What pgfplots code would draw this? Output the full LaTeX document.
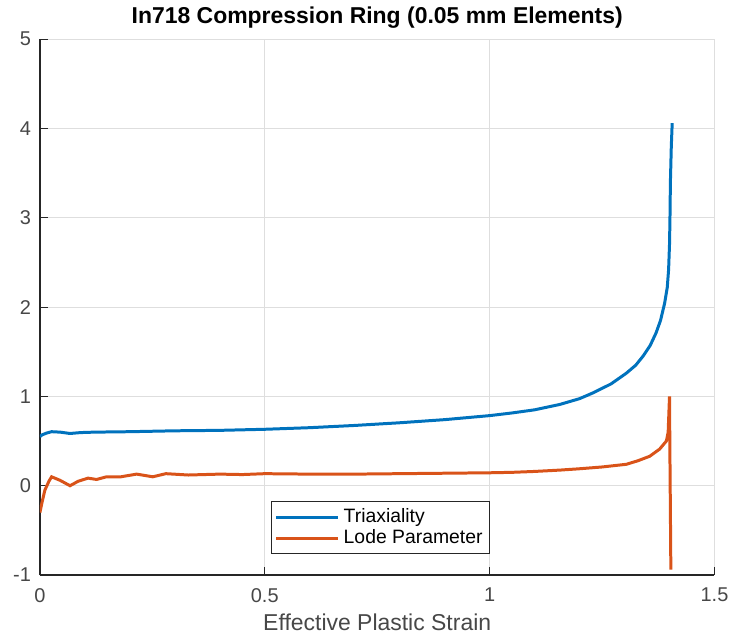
\documentclass[border=0pt]{standalone}
\usepackage{fontspec}
\setmainfont{Liberation Sans}
\usepackage{pgfplots}
\pgfplotsset{compat=1.18}
\definecolor{mblue}{rgb}{0,0.447,0.741}
\definecolor{morange}{rgb}{0.85,0.325,0.098}
\definecolor{axgray}{rgb}{0.15,0.15,0.15}
\definecolor{gridgray}{rgb}{0.87,0.87,0.87}
\begin{document}
\begin{tikzpicture}
\begin{axis}[
  scale only axis,
  width=338pt, height=268.5pt,
  xmin=0, xmax=1.5, ymin=-1, ymax=5,
  xtick={0,0.5,1,1.5}, ytick={-1,0,1,2,3,4,5},
  xticklabels={0,0.5,1,1.5},
  axis x line*=bottom, axis y line*=left,
  axis line style={axgray, line width=0.6pt},
  tick align=inside,
  major tick length=4pt,
  tick style={axgray, line width=0.6pt},
  grid=major,
  major grid style={gridgray, line width=0.5pt},
  ticklabel style={font=\fontsize{10}{12}\selectfont, text=axgray!85},
  xticklabel style={yshift=-3pt},
  yticklabel style={xshift=-1pt},
  /pgf/number format/assume math mode=true,
  xlabel={Effective Plastic Strain},
  xlabel style={font=\fontsize{11.5}{13}\selectfont, text=axgray!85, yshift=1pt},
  title={\textbf{In718 Compression Ring (0.05 mm Elements)}},
  title style={font=\fontsize{11.5}{13}\selectfont, yshift=-4pt},
  legend style={at={(0.343,0.039)}, anchor=south west, draw=axgray, line width=0.6pt,
    font=\fontsize{9.7}{11}\selectfont, row sep=-2pt, inner sep=1.5pt},
  legend cell align=left,
  legend image post style={line width=1.5pt},
  legend image code/.code={\draw[#1] (0pt,0pt) -- (31pt,0pt);},
]
\addplot[mblue, line width=1.5pt] coordinates {
(0,0.55) (0.005,0.57) (0.015,0.59) (0.026,0.605) (0.045,0.60) (0.067,0.585)
(0.09,0.595) (0.12,0.60) (0.2,0.605) (0.3,0.615) (0.4,0.62) (0.5,0.632)
(0.6,0.65) (0.7,0.675) (0.8,0.705) (0.9,0.74) (1.0,0.785) (1.05,0.815)
(1.1,0.85) (1.156,0.91) (1.2,0.975) (1.23,1.04) (1.27,1.14) (1.304,1.26)
(1.325,1.35) (1.341,1.45) (1.357,1.57) (1.37,1.71) (1.38,1.85) (1.389,2.04)
(1.395,2.22) (1.398,2.42) (1.400,2.7) (1.401,2.98) (1.402,3.4) (1.404,3.8) (1.406,4.06)
};
\addlegendentry{Triaxiality}
\addplot[morange, line width=1.5pt] coordinates {
(0,-0.30) (0.005,-0.18) (0.011,-0.05) (0.02,0.05) (0.026,0.10) (0.045,0.06)
(0.067,0.0) (0.085,0.05) (0.107,0.085) (0.126,0.07) (0.148,0.10) (0.18,0.10)
(0.215,0.13) (0.251,0.10) (0.28,0.135) (0.33,0.12) (0.4,0.13) (0.45,0.125)
(0.5,0.135) (0.6,0.13) (0.7,0.13) (0.8,0.135) (0.9,0.14) (1.0,0.145)
(1.05,0.15) (1.1,0.16) (1.156,0.175) (1.2,0.19) (1.25,0.21) (1.304,0.24)
(1.33,0.28) (1.356,0.33) (1.378,0.41) (1.393,0.50) (1.397,0.6) (1.400,1.0)
(1.401,0.3) (1.402,-0.3) (1.403,-0.94)
};
\addlegendentry{Lode Parameter}
\end{axis}
\path ([xshift=-20pt,yshift=-34pt]current axis.south west) rectangle ([xshift=9.5pt,yshift=18pt]current axis.north east);
\end{tikzpicture}
\end{document}
